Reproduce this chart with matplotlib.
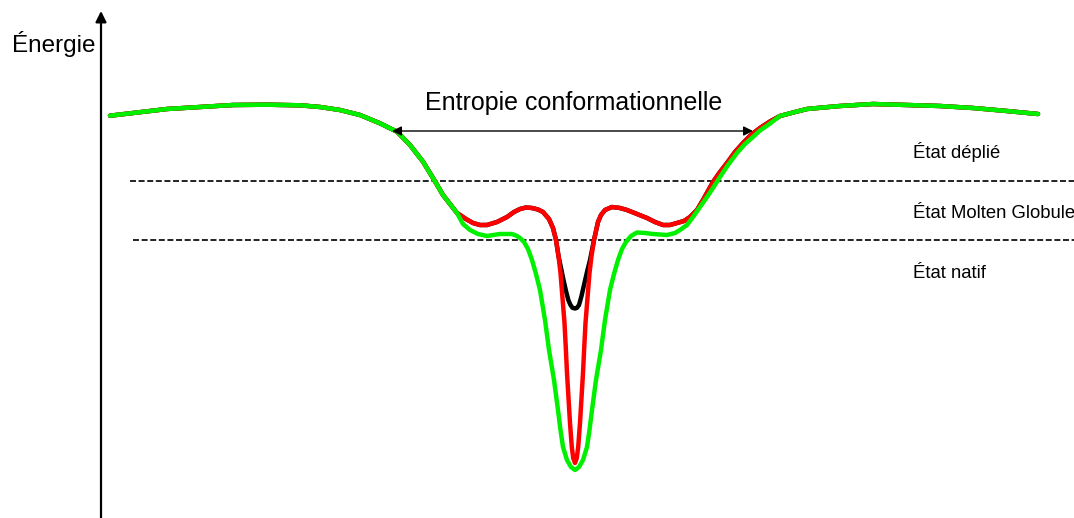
import matplotlib
matplotlib.use("Agg")
import matplotlib.pyplot as plt

plt.rcParams['font.family'] = ['Liberation Sans', 'DejaVu Sans']
plt.rcParams['lines.scale_dashes'] = False

# --- data (reaction coordinate x, energy drawn downward as in the picture) ---
outer_left_x = [110, 133, 167, 200, 233, 267, 300, 320, 340, 360, 380, 397, 410, 423, 433, 443, 457]
outer_left_y = [115.7, 113, 109, 107, 105, 104.7, 105.3, 107, 110, 115, 123.3, 131.7, 145, 161.7, 178, 195, 213]

outer_right_x = [780, 795, 807, 823, 840, 873, 907, 940, 973, 1007, 1038]
outer_right_y = [116, 112, 109, 107.5, 106, 104, 105, 106, 108, 111, 114]

# molten-globule shoulders shared by black and red curves
mg_left_x = [466, 473, 480, 487, 497, 507, 514, 520, 526, 532, 538, 543, 549, 553, 556]
mg_left_y = [219, 223, 225, 225, 222, 217, 212, 209, 207.5, 208, 209.5, 212, 219, 228, 240]
mg_right_x = [598, 601, 605, 612, 620, 627, 637, 647, 655, 663, 670, 677, 684, 690, 697, 703,
              708, 713, 720, 727, 735, 743, 751, 760, 770]
mg_right_y = [222, 215, 210, 207, 208, 210, 214, 218, 222, 225, 225, 223, 221, 217, 210, 200,
              191, 182, 172, 163, 152, 143, 135, 128, 121.5]

# black curve: shallow native well
black_well_x = [558.5, 561, 563.5, 566, 568.3, 570.5, 572.5, 575, 577, 579, 581.5, 584, 587, 590, 594]
black_well_y = [256, 268, 280, 291, 300, 305, 307.8, 308.5, 307.8, 305, 296, 285, 272, 260, 240]

# red curve: deep narrow native well
red_well_x = [558.5, 560.5, 562.5, 564.5, 565.8, 567, 568.5, 570, 571.8, 573.2, 575,
              576.8, 578.2, 580, 581.5, 583, 584.2, 585.5, 587.5, 589.5, 591.5, 594]
red_well_y = [256, 273, 298, 323, 348, 373, 398, 423, 447, 458, 463,
              458, 447, 423, 398, 373, 348, 323, 298, 273, 256, 240]

# green curve: deep wide well
green_mid_x = [463, 470, 478, 487, 500, 512, 517, 520, 524, 528, 532, 536, 540, 545, 549, 554,
               558, 560.5, 563, 567, 571, 575, 579, 583, 587, 589.5, 592, 596, 601, 605, 610,
               614, 618, 622, 626, 631, 637, 645, 653, 667, 675, 680, 687, 693, 700, 707, 713,
               720, 728, 737, 745, 753, 760, 768]
green_mid_y = [224, 230, 234, 236, 234, 234, 236, 238, 242, 249, 260, 274, 290, 320, 350, 380,
               410, 430, 447, 460, 467, 470, 467, 460, 447, 430, 410, 380, 350, 320, 290,
               274, 260, 249, 242, 236, 232.5, 233, 234, 235, 233, 230, 225, 217, 207, 197, 188,
               177, 165, 153, 144, 137, 130.5, 125]

levels = [181, 240]
level_x_start = [130, 133]
arrow_span = [392, 753]
arrow_y = 131

black_x = outer_left_x + mg_left_x + black_well_x + mg_right_x + outer_right_x
black_y = outer_left_y + mg_left_y + black_well_y + mg_right_y + outer_right_y
red_x = outer_left_x + mg_left_x + red_well_x + mg_right_x + outer_right_x
red_y = outer_left_y + mg_left_y + red_well_y + mg_right_y + outer_right_y
green_x = outer_left_x + green_mid_x + outer_right_x
green_y = outer_left_y + green_mid_y + outer_right_y

fig = plt.figure(figsize=(10.74, 5.18), dpi=100)
ax = fig.add_axes([0, 0, 1, 1])
ax.set_xlim(0, 1074)
ax.set_ylim(518, 0)
ax.axis('off')

# dashed levels
for lv, xs in zip(levels, level_x_start):
    ax.plot([xs, 1074], [lv, lv], color='#111111', lw=1.3, dashes=(4.3, 1.9), zorder=1)

style = dict(lw=3.2, solid_capstyle='round', solid_joinstyle='round')
ax.plot(black_x, black_y, color='black', zorder=2, **style)
ax.plot(red_x, red_y, color='#ff0000', zorder=3, **style)
ax.plot(green_x, green_y, color='#00f000', zorder=4, **style)

# energy axis
ax.annotate('', xy=(101, 11), xytext=(101, 520),
            arrowprops=dict(arrowstyle='-|>', lw=1.6, color='black', mutation_scale=16,
                            shrinkA=0, shrinkB=0))
ax.text(12, 52, 'Énergie', fontsize=17.5, ha='left', va='baseline', color='black')

# conformational entropy arrow
ax.annotate('', xy=(arrow_span[0], arrow_y), xytext=(arrow_span[1], arrow_y),
            arrowprops=dict(arrowstyle='<|-|>', lw=1.0, color='black', mutation_scale=14,
                            shrinkA=0, shrinkB=0), zorder=5)
ax.text(425, 110, 'Entropie conformationnelle', fontsize=18, ha='left', va='baseline')

ax.text(913, 158, 'État déplié', fontsize=13.3, ha='left', va='baseline')
ax.text(913, 218, 'État Molten Globule', fontsize=13.3, ha='left', va='baseline')
ax.text(913, 278, 'État natif', fontsize=13.3, ha='left', va='baseline')

fig.savefig('out.png', dpi=100)
